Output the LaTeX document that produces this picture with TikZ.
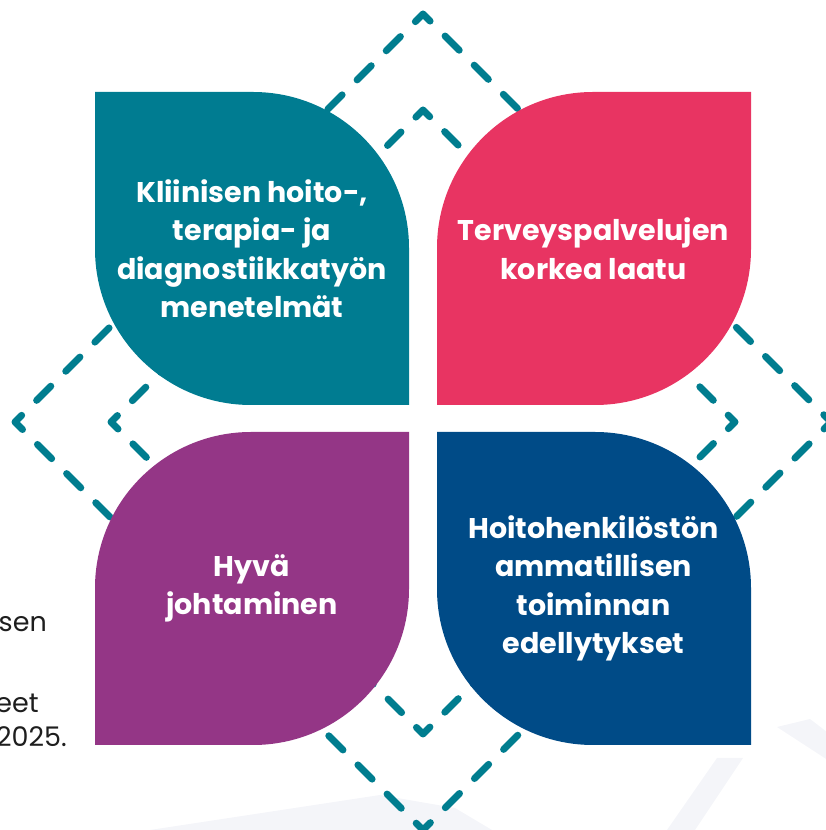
\documentclass[tikz,border=0pt]{standalone}
\usepackage{fontspec}
\setmainfont{Poppins}
\usetikzlibrary{positioning}
\definecolor{leafteal}{HTML}{007C91}
\definecolor{leafpink}{HTML}{E83462}
\definecolor{leafpurple}{HTML}{943686}
\definecolor{leafblue}{HTML}{004B87}
\definecolor{dashteal}{HTML}{007D8F}
\definecolor{markgrey}{HTML}{F4F5F9}
\definecolor{sidegrey}{HTML}{1E1E1E}
\tikzset{
	x=1pt, y=1pt,
	dashline/.style={
		draw=dashteal,
		line width=7pt,
		line cap=round,
		line join=round,
	},
	leaftext/.style={
		text=white,
		align=center,
		inner sep=0pt,
		font={\fontsize{28.5}{38.5}\selectfont\bfseries},
	},
	sidetext/.style={
		text=sidegrey,
		anchor=base east,
		inner sep=0pt,
		font={\fontsize{27}{34}\selectfont},
	},
	watermark/.style={fill=markgrey, draw=none},
}
% leaf with round top right / bottom left corners
\def\leafrise#1#2#3{
	\fill[#1] (#2,#3+313) -- (#2+158,#3+313) arc[start angle=90, end angle=0, radius=156]
		-- (#2+314,#3) -- (#2+156,#3) arc[start angle=270, end angle=180, radius=156] -- cycle;
}
% leaf with round top left / bottom right corners
\def\leaffall#1#2#3{
	\fill[#1] (#2+314,#3+313) -- (#2+156,#3+313) arc[start angle=90, end angle=180, radius=156]
		-- (#2,#3) -- (#2+158,#3) arc[start angle=270, end angle=360, radius=156] -- cycle;
}
\begin{document}
\begin{tikzpicture}
\useasboundingbox (0,0) rectangle (826,830);
\clip (0,0) rectangle (826,830);

% faint background marks
\fill[watermark] (150,0) -- (380,35) -- (455,22) -- (492,0) -- cycle;
\fill[watermark] (667,0) -- (717,72) -- (743,72) -- (695,0) -- cycle;
\fill[watermark] (777,103) -- (810,111) -- (840,88) -- (840,62) -- cycle;

% dashed diamonds
\coordinate (mid) at (423,408);
\draw[dashline, dash pattern=on 20pt off 21.2pt, dash phase=10pt]
	(423,816) -- (831,408) -- (423,0) -- (15,408) -- cycle;
\draw[dashline, dash pattern=on 19pt off 21.1pt, dash phase=9.5pt]
	(423,720) -- (735,408) -- (423,96) -- (111,408) -- cycle;

% the four leaves
\leafrise{leafteal}{95}{425}
\leaffall{leafpink}{437}{425}
\leaffall{leafpurple}{95}{85}
\leafrise{leafblue}{437}{85}

\node(methods)[leaftext] at (252,581.5) {Kliinisen hoito-,\\terapia- ja\\diagnostiikkatyön\\menetelmät};
\node(quality)[leaftext] at (593.5,581.5) {Terveyspalvelujen\\korkea laatu};
\node(leading)[leaftext] at (252,241.5) {Hyvä\\johtaminen};
\node(conditions)[leaftext] at (593.5,241.5) {Hoitohenkilöstön\\ammatillisen\\toiminnan\\edellytykset};

% cut-off side text
\node(side1)[sidetext] at (47,198) {sen};
\node(side2)[sidetext] at (39,117) {eet};
\node(side3)[sidetext] at (67,83) {2025.};

\end{tikzpicture}
\end{document}
